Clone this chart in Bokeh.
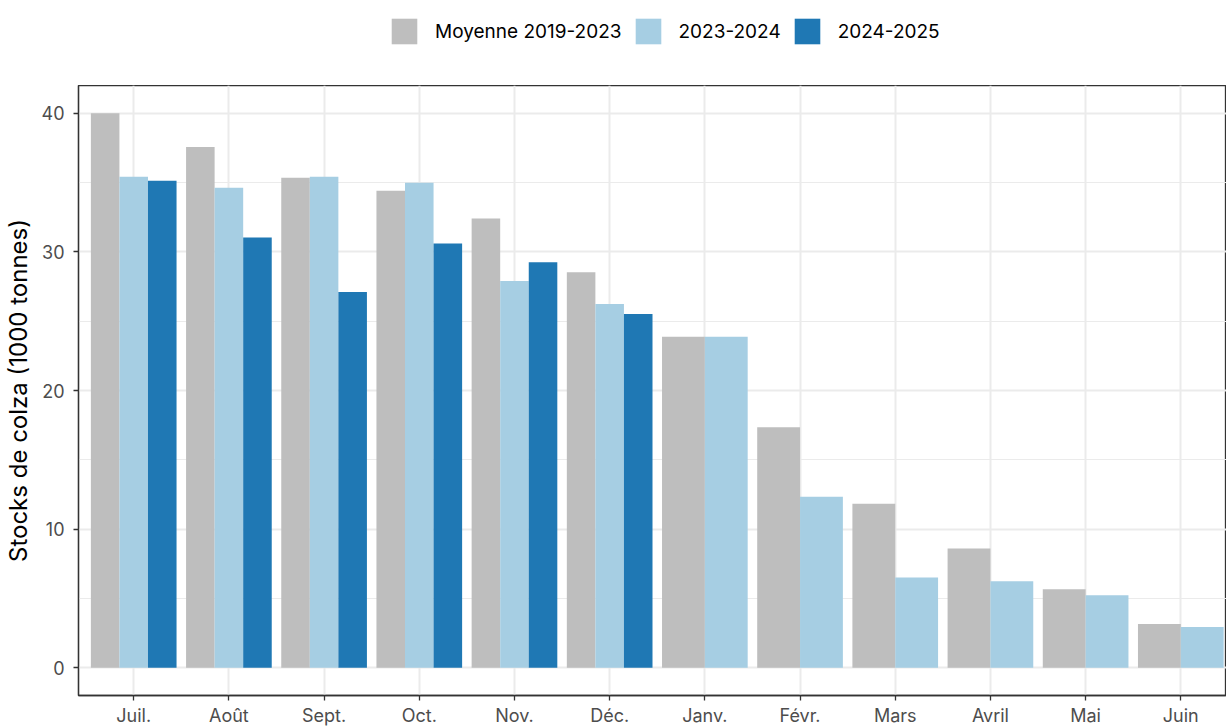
from bokeh.plotting import figure
from bokeh.models import (ColumnDataSource, FixedTicker, Legend, LegendItem, Range1d)
from bokeh.layouts import column
from bokeh.embed import file_html
from bokeh.resources import INLINE

months = ["Juil.", "Août", "Sept.", "Oct.", "Nov.", "Déc.", "Janv.", "Févr.", "Mars", "Avril", "Mai", "Juin"]
series_names = ["Moyenne 2019-2023", "2023-2024", "2024-2025"]
moyenne = [40.0, 37.56, 35.34, 34.41, 32.4, 28.53, 23.87, 17.35, 11.83, 8.6, 5.66, 3.15]
s2023 = [35.41, 34.62, 35.41, 34.98, 27.9, 26.24, 23.87, 12.33, 6.52, 6.24, 5.23, 2.94]
s2024 = [35.13, 31.04, 27.1, 30.6, 29.25, 25.52, None, None, None, None, None, None]
colors = ["#bebebe", "#a6cee3", "#1f78b4"]

FONT = "Inter"
all_series = [moyenne, s2023, s2024]

LEFT = 78
FW = 1148
FH = 610
LEG_H = 85

# ---------- main chart ----------
p = figure(frame_width=FW, frame_height=FH, output_backend="svg", toolbar_location=None,
           x_range=Range1d(0.42, 12.48), y_range=Range1d(-2.0, 42.0),
           min_border_left=LEFT, min_border_right=0, min_border_bottom=0, min_border_top=0)
p.background_fill_color = "white"
p.outline_line_color = "#333333"
p.outline_line_width = 1.3

sources = []
for k, vals in enumerate(all_series):
    xs, tops, ws = [], [], []
    for i in range(len(months)):
        n = sum(1 for s in all_series if s[i] is not None)
        if vals[i] is None:
            continue
        w = 0.9 / n
        xs.append(i + 1 - 0.45 + (k + 0.5) * w)
        tops.append(vals[i])
        ws.append(w)
    src = ColumnDataSource(dict(x=xs, top=tops, w=ws))
    sources.append(src)
    p.vbar(x="x", top="top", width="w", bottom=0, source=src,
           fill_color=colors[k], line_color=None)

p.xaxis.ticker = FixedTicker(ticks=list(range(1, 13)))
p.xaxis.major_label_overrides = {i + 1: m for i, m in enumerate(months)}
p.yaxis.ticker = FixedTicker(ticks=[0, 10, 20, 30, 40], minor_ticks=[5, 15, 25, 35])
p.yaxis.axis_label = "Stocks de colza (1000 tonnes)"

for ax in [p.xaxis[0], p.yaxis[0]]:
    ax.axis_line_color = "#333333"
    ax.axis_line_width = 1.3
    ax.major_tick_line_color = "#333333"
    ax.major_tick_line_width = 1.3
    ax.major_tick_out = 5
    ax.major_tick_in = 0
    ax.minor_tick_line_color = None
    ax.major_label_text_font = FONT
    ax.major_label_text_font_size = "18px"
    ax.major_label_text_color = "#4d4d4d"
    ax.axis_label_text_font = FONT
    ax.axis_label_text_font_size = "24px"
    ax.axis_label_text_font_style = "normal"
    ax.axis_label_text_color = "black"

p.xaxis.major_label_standoff = 4
p.yaxis.major_label_standoff = 9
p.yaxis.axis_label_standoff = 6

p.xgrid.grid_line_color = "#ebebeb"
p.xgrid.grid_line_width = 2
p.ygrid.grid_line_color = "#ebebeb"
p.ygrid.grid_line_width = 2
p.ygrid.minor_grid_line_color = "#ebebeb"
p.ygrid.minor_grid_line_width = 1

# ---------- legend strip (same data, view range kept away from the bars) ----------
pl = figure(width=LEFT + FW, height=LEG_H, output_backend="svg", toolbar_location=None,
            x_range=Range1d(-20, -19), y_range=Range1d(0, 1),
            x_axis_type=None, y_axis_type=None,
            min_border_left=0, min_border_right=0, min_border_top=0, min_border_bottom=0)
pl.outline_line_color = None
pl.grid.visible = False
leg_renderers = []
for k in range(3):
    r = pl.vbar(x="x", top="top", width="w", bottom=0, source=sources[k],
                fill_color=colors[k], line_color=None)
    leg_renderers.append(r)

legend = Legend(items=[LegendItem(label=series_names[k], renderers=[leg_renderers[k]]) for k in range(3)],
                orientation="horizontal", location=(388 - LEFT, LEG_H - 47),
                glyph_width=32, glyph_height=32, label_standoff=15, spacing=10,
                label_text_font=FONT, label_text_font_size="19px", label_text_color="black",
                border_line_color=None, background_fill_alpha=0, padding=0, margin=0)
pl.add_layout(legend, "center")

layout = column(pl, p, spacing=0)
open("out.html", "w").write(file_html(layout, INLINE))
